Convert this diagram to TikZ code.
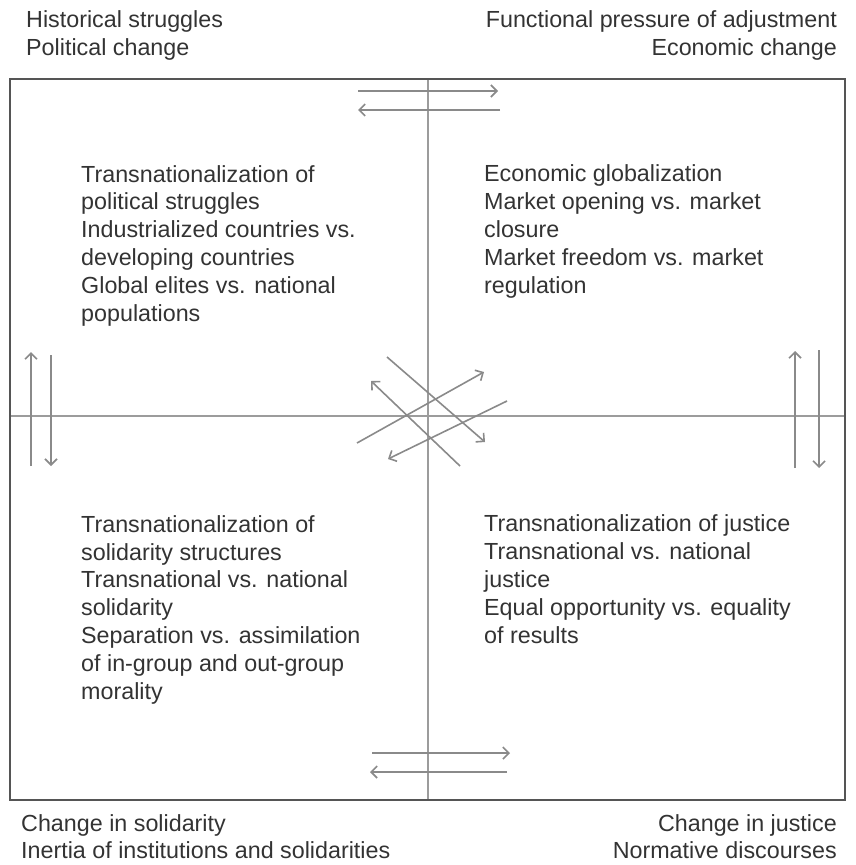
\documentclass[tikz,border=0pt]{standalone}
\usepackage{fontspec}
\setmainfont{Liberation Sans}
\usepackage{xcolor}
\usetikzlibrary{arrows,arrows.meta}

\definecolor{framegray}{HTML}{555555}
\definecolor{axisgray}{HTML}{9C9C9C}
\definecolor{arrowgray}{HTML}{8A8A8A}
\definecolor{textgray}{HTML}{333333}

\tikzset{
	label/.style={inner sep=0pt, text=textgray, font=\fontsize{23.3}{27.8}\selectfont},
	quad/.style={label, align=left, anchor=base west},
	arr/.style={arrowgray, line width=1.6pt, -{Straight Barb[length=6pt,width=12pt]}},
}

\begin{document}
\begin{tikzpicture}[x=1pt,y=-1pt]
	\useasboundingbox (0,0) rectangle (856,865);
	% frame and axes
	\draw[axisgray,line width=2pt] (428,79)--(428,800);
	\draw[axisgray,line width=2pt] (10,416)--(845,416);
	\draw[framegray,line width=2.6pt] (10,79) rectangle (845,800);
	% outside labels
	\node[label,anchor=base west] (hist) at (26,27) {Historical struggles};
	\node[label,anchor=base west] (pol) at (26,55) {Political change};
	\node[label,anchor=base east] (func) at (837,27) {Functional pressure of adjustment};
	\node[label,anchor=base east] (econ) at (837,55) {Economic change};
	\node[label,anchor=base west] (soli) at (21,831) {Change in solidarity};
	\node[label,anchor=base west] (inert) at (21,858) {Inertia of institutions and solidarities};
	\node[label,anchor=base east] (just) at (837,831) {Change in justice};
	\node[label,anchor=base east] (norm) at (837,858) {Normative discourses};
	% quadrants (base = last line)
	\node[quad] (tl) at (81,321) {Transnationalization of\\political struggles\\Industrialized countries vs.\\developing countries\\Global elites vs. national\\populations};
	\node[quad] (tr) at (484,293) {Economic globalization\\Market opening vs. market\\closure\\Market freedom vs. market\\regulation};
	\node[quad] (bl) at (81,699) {Transnationalization of\\solidarity structures\\Transnational vs. national\\solidarity\\Separation vs. assimilation\\of in-group and out-group\\morality};
	\node[quad] (br) at (484,643) {Transnationalization of justice\\Transnational vs. national\\justice\\Equal opportunity vs. equality\\of results};
	% arrows
	\draw[arr] (358,91)--(498,91);
	\draw[arr] (500,110)--(358,110);
	\draw[arr] (372,753)--(510,753);
	\draw[arr] (507,772)--(370,772);
	\draw[arr] (31,466)--(31,352);
	\draw[arr] (51,355)--(51,466);
	\draw[arr] (795,468)--(795,351);
	\draw[arr] (819,350)--(819,468);
	\draw[arr] (387,357)--(485,442);
	\draw[arr] (460,466)--(371,381);
	\draw[arr] (357,443)--(484,372);
	\draw[arr] (507,401)--(388,459);
\end{tikzpicture}
\end{document}
